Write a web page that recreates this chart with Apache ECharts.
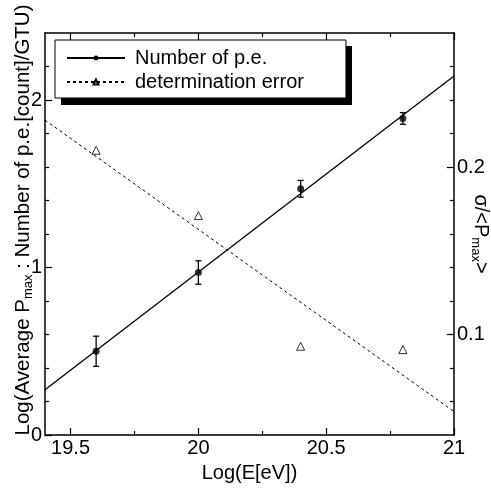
<!DOCTYPE html>
<html>
<head>
<meta charset="utf-8">
<script src="https://cdn.jsdelivr.net/npm/echarts@6/dist/echarts.min.js"></script>
<style>html,body{margin:0;padding:0;background:#fff}#c{width:491px;height:488px}</style>
</head>
<body>
<div id="c"></div>
<script>
// ---- data ----
const energy = [19.6, 20.0, 20.4, 20.8];
const peValues = [0.50, 0.97, 1.47, 1.89];
const peErrors = [0.09, 0.07, 0.05, 0.035];
const sigmaValues = [0.210, 0.171, 0.093, 0.091];
const fitX = [19.4, 21.0];
const peFitY = [0.27, 2.143];
const sigmaFitY = [0.228, 0.054];
const xMajorTicks = [19.5, 20, 20.5, 21];
const xMinorTicks = [19.75, 20.25, 20.75];
const yLeftMajorTicks = [0, 1, 2];
const yLeftMinorTicks = [0.2, 0.4, 0.6, 0.8, 1.2, 1.4, 1.6, 1.8, 2.2];
const yRightMajorTicks = [0.1, 0.2];
const yRightMinorTicks = [0.06, 0.08, 0.12, 0.14, 0.16, 0.18, 0.22, 0.24, 0.26];

const FONT = "'Liberation Sans', Arial, Helvetica, sans-serif";
const FS = 20;

const chart = echarts.init(document.getElementById('c'), null, {renderer: 'canvas'});

function xAx(pos, ticks, len, showLine, labels) {
  return {
    type: 'value', position: pos, min: 19.4, max: 21,
    axisLine: {show: showLine, onZero: false, lineStyle: {color: '#000', width: 1.5}},
    axisTick: {show: true, inside: true, length: len, customValues: ticks, lineStyle: {color: '#000', width: 1.2}},
    axisLabel: labels ? {show: true, customValues: ticks, color: '#000', fontSize: FS, fontFamily: FONT, margin: 3} : {show: false},
    splitLine: {show: false}
  };
}
function yAx(pos, min, max, ticks, len, showLine, labels) {
  return {
    type: 'value', position: pos, min: min, max: max,
    axisLine: {show: showLine, onZero: false, lineStyle: {color: '#000', width: 1.5}},
    axisTick: {show: true, inside: true, length: len, customValues: ticks, lineStyle: {color: '#000', width: 1.2}},
    axisLabel: labels ? {show: true, customValues: ticks, color: '#000', fontSize: FS, fontFamily: FONT, margin: 3} : {show: false},
    splitLine: {show: false}
  };
}

const xAxes = [
  Object.assign(xAx('bottom', xMajorTicks, 7, true, true), {
    name: 'Log(E[eV])', nameLocation: 'middle', nameGap: 28,
    nameTextStyle: {color: '#000', fontSize: FS, fontFamily: FONT}
  }),
  xAx('bottom', xMinorTicks, 4, false, false),
  xAx('top', xMajorTicks, 7, true, false),
  xAx('top', xMinorTicks, 4, false, false)
];
const yAxes = [
  yAx('left', 0, 2.4, yLeftMajorTicks, 7, true, true),
  yAx('left', 0, 2.4, yLeftMinorTicks, 4, false, false),
  yAx('right', 0.04, 0.28, yRightMajorTicks, 7, true, true),
  yAx('right', 0.04, 0.28, yRightMinorTicks, 4, false, false)
];

const pePoints = energy.map((e, i) => [e, peValues[i]]);
const peErrData = energy.map((e, i) => [e, peValues[i] - peErrors[i], peValues[i] + peErrors[i]]);
const sigmaPoints = energy.map((e, i) => [e, sigmaValues[i]]);
const peFit = fitX.map((x, i) => [x, peFitY[i]]);
const sigmaFit = fitX.map((x, i) => [x, sigmaFitY[i]]);

const option = {
  backgroundColor: '#fff',
  animation: false,
  grid: {left: 45, right: 37, top: 33, bottom: 46, containLabel: false},
  xAxis: xAxes,
  yAxis: yAxes,
  legend: {
    data: ['Number of p.e.', 'determination error'],
    orient: 'vertical', left: 55, top: 40, z: 10,
    padding: [8, 42, 6, 11],
    itemWidth: 58, itemHeight: 6, itemGap: 4,
    backgroundColor: '#fff', borderColor: '#000', borderWidth: 1,
    selectedMode: false,
    textStyle: {color: '#000', fontSize: FS, fontFamily: FONT, lineHeight: 20, padding: [0, 0, 0, 5]}
  },
  graphic: [
    {
      type: 'rect', left: 61, top: 46, z: 5, silent: true,
      shape: {width: 291, height: 59},
      style: {fill: '#000'}
    },
    {
      type: 'text', x: 23, y: 220, rotation: Math.PI / 2, z: 100,
      style: {
        text: '{a|Log(Average P}{s|max}{a| : Number of p.e.[count]/GTU)}',
        align: 'center', verticalAlign: 'middle',
        rich: {
          a: {fontSize: 20.5, fontFamily: FONT, fill: '#000', lineHeight: 24},
          s: {fontSize: 13, fontFamily: FONT, fill: '#000', lineHeight: 24, verticalAlign: 'bottom', padding: [10, 0, 0, 0]}
        }
      }
    },
    {
      type: 'text', x: 481, y: 234, rotation: -Math.PI / 2, z: 100,
      style: {
        text: '{a|σ/<P}{s|max}{a|>}',
        align: 'center', verticalAlign: 'middle',
        rich: {
          a: {fontSize: FS, fontFamily: FONT, fill: '#000', lineHeight: 24},
          s: {fontSize: 13, fontFamily: FONT, fill: '#000', lineHeight: 24, verticalAlign: 'bottom', padding: [10, 0, 0, 0]}
        }
      }
    }
  ],
  series: [
    {
      name: 'Number of p.e.', type: 'line', xAxisIndex: 0, yAxisIndex: 0,
      data: peFit, showSymbol: false, symbol: 'circle', symbolSize: 7,
      itemStyle: {color: '#000'}, lineStyle: {color: '#000', width: 1.3}, z: 3
    },
    {
      name: 'determination error', type: 'line', xAxisIndex: 0, yAxisIndex: 2,
      data: sigmaFit, showSymbol: false, symbol: 'triangle', symbolSize: 8,
      itemStyle: {color: '#fff', borderColor: '#000', borderWidth: 1},
      lineStyle: {color: '#000', width: 1, type: [3, 3]}, z: 3
    },
    {
      name: 'Number of p.e.', type: 'scatter', xAxisIndex: 0, yAxisIndex: 0,
      data: pePoints, symbol: 'circle', symbolSize: 7, itemStyle: {color: '#000'}, z: 5
    },
    {
      name: 'pe-errors', type: 'custom', xAxisIndex: 0, yAxisIndex: 0,
      data: peErrData, z: 4,
      renderItem: function (params, api) {
        const x = api.value(0);
        const lo = api.coord([x, api.value(1)]);
        const hi = api.coord([x, api.value(2)]);
        const w = 3;
        const st = {stroke: '#000', lineWidth: 1.3};
        return {
          type: 'group',
          children: [
            {type: 'line', shape: {x1: lo[0], y1: lo[1], x2: hi[0], y2: hi[1]}, style: st},
            {type: 'line', shape: {x1: lo[0] - w, y1: lo[1], x2: lo[0] + w, y2: lo[1]}, style: st},
            {type: 'line', shape: {x1: hi[0] - w, y1: hi[1], x2: hi[0] + w, y2: hi[1]}, style: st}
          ]
        };
      }
    },
    {
      name: 'determination error', type: 'scatter', xAxisIndex: 0, yAxisIndex: 2,
      data: sigmaPoints, symbol: 'triangle', symbolSize: 8,
      itemStyle: {color: '#fff', borderColor: '#000', borderWidth: 1}, z: 5
    }
  ]
};
chart.setOption(option);
</script>
</body>
</html>
